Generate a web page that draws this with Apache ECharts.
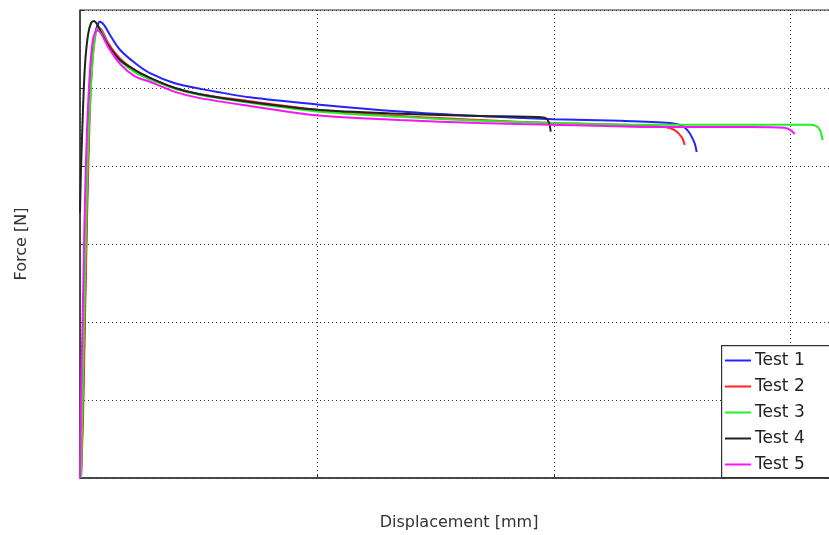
<!DOCTYPE html>
<html>
<head>
<meta charset="utf-8">
<script src="https://cdn.jsdelivr.net/npm/echarts@6/dist/echarts.min.js"></script>
<style>html,body{margin:0;padding:0;background:#fff}#c{width:829px;height:535px}</style>
</head>
<body>
<div id="c"></div>
<script>
const seriesNames = ['Test 1', 'Test 2', 'Test 3', 'Test 4', 'Test 5'];
const seriesColors = ['#2323ff', '#ff2323', '#23f023', '#222222', '#ff10ff'];

const test1X = [0.021,0.063,0.105,0.148,0.190,0.232,0.295,0.359,0.422,0.506,0.633,0.844,1.160,1.477,2.004,2.532,3.586,5.0,6.751,8.439,10.0,11.392,12.447,12.722,12.869,12.975,13.017];
const test1Y = [0,100,228,356,459,523,562,579,585,581,568,549,532,519,506,499,488,479,470,464,460,458,455,451,442,429,418];

const test2X = [0.021,0.063,0.105,0.148,0.190,0.232,0.295,0.380,0.464,0.591,0.844,1.160,1.477,2.004,2.532,3.586,5.0,6.751,8.439,10.0,11.392,12.342,12.553,12.700,12.764];
const test2Y = [0,74,203,331,433,504,555,578,574,558,538,523,513,500,492,483,472,464,459,455,453,450,446,437,427];

const test3X = [0.021,0.042,0.084,0.127,0.169,0.232,0.295,0.380,0.464,0.591,0.844,1.160,1.477,2.004,2.532,3.586,5.0,6.751,8.439,10.0,12.025,14.135,15.443,15.570,15.633,15.675];
const test3Y = [0,62,190,318,421,504,555,577,572,555,535,520,511,499,491,481,470,463,458,455,453,453,453,450,444,433];

const test4X = [0,0.021,0.063,0.105,0.169,0.232,0.295,0.359,0.443,0.591,0.844,1.160,1.477,2.004,2.532,3.586,5.0,6.751,8.439,9.810,9.895,9.937];
const test4Y = [340,395,472,529,568,583,586,582,572,555,536,523,513,500,492,482,472,467,464,462,456,444];

const test5X = [0,0.021,0.063,0.105,0.148,0.211,0.274,0.359,0.443,0.591,0.844,1.160,1.477,2.004,2.532,3.586,5.0,6.751,8.439,10.0,12.025,14.135,14.873,15.0,15.084];
const test5Y = [0,100,228,356,446,523,562,574,570,553,531,515,508,495,487,477,465,459,455,453,450,450,449,446,441];

const xs = [test1X, test2X, test3X, test4X, test5X];
const ys = [test1Y, test2Y, test3Y, test4Y, test5Y];

const font = 'DejaVu Sans';
const chart = echarts.init(document.getElementById('c'), null, {renderer: 'canvas'});
chart.setOption({
  animation: false,
  backgroundColor: '#fff',
  grid: {left: 80, top: 10, width: 758, height: 468, outerBoundsMode: 'none', containLabel: false,
         show: true, borderColor: '#333', borderWidth: 1, backgroundColor: 'transparent'},
  xAxis: {
    type: 'value', min: 0, max: 16, interval: 5,
    name: 'Displacement [mm]', nameLocation: 'middle', nameGap: 37,
    nameTextStyle: {fontFamily: font, fontSize: 16, color: '#333'},
    axisLine: {show: true, lineStyle: {color: '#333', width: 1.5}},
    axisTick: {show: true, inside: true, length: 4, lineStyle: {color: '#333'}},
    axisLabel: {show: false},
    splitLine: {show: true, lineStyle: {color: '#333', type: [1, 3], width: 1}}
  },
  yAxis: {
    type: 'value', min: 0, max: 600, interval: 100,
    name: 'Force [N]', nameLocation: 'middle', nameGap: 50, nameRotate: 90,
    nameTextStyle: {fontFamily: font, fontSize: 16, color: '#333'},
    axisLine: {show: true, lineStyle: {color: '#333', width: 1.5}},
    axisTick: {show: true, inside: true, length: 4, lineStyle: {color: '#333'}},
    axisLabel: {show: false},
    splitLine: {show: true, lineStyle: {color: '#333', type: [1, 3], width: 1}}
  },
  graphic: [{
    type: 'rect', left: 721, top: 345, z: 100,
    shape: {width: 130, height: 132},
    style: {fill: '#fff', stroke: '#333', lineWidth: 1.2}
  }],
  legend: {
    orient: 'vertical', left: 725, top: 352, z: 110,
    itemWidth: 26, itemHeight: 14, itemGap: 9,
    padding: 0,
    icon: 'path://M0,0H26V2H0Z',
    textStyle: {fontFamily: font, fontSize: 17, color: '#222', padding: [0, 0, 0, -1]},
    data: seriesNames
  },
  series: seriesNames.map((n, i) => ({
    name: n, type: 'line', symbol: 'none', smooth: 0.3,
    color: seriesColors[i],
    itemStyle: {color: seriesColors[i]},
    lineStyle: {width: 2, color: seriesColors[i]},
    data: xs[i].map((x, k) => [x, ys[i][k]])
  }))
});
</script>
</body>
</html>
